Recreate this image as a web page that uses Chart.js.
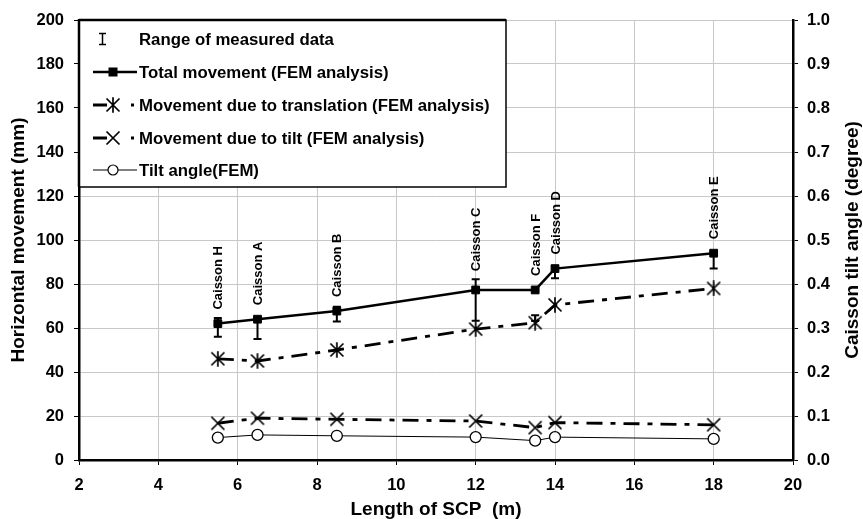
<!DOCTYPE html>
<html>
<head>
<meta charset="utf-8">
<script src="https://cdn.jsdelivr.net/npm/chart.js@4/dist/chart.umd.min.js"></script>
<style>
  html, body { margin: 0; padding: 0; background: #fff; }
  #wrap { width: 863px; height: 519px; }
</style>
</head>
<body>
<div id="wrap"><canvas id="myChart" width="863" height="519"></canvas></div>
<script>
const caissons = ["Caisson H", "Caisson A", "Caisson B", "Caisson C", "Caisson F", "Caisson D", "Caisson E"];
const scpLength = [5.5, 6.5, 8.5, 12, 13.5, 14, 18];
const totalMove = [62, 64, 67.7, 77.3, 77.3, 87, 94];
const translationMove = [46, 45, 50, 59.5, 62.4, 70.5, 78];
const tiltMove = [16.7, 19, 18.5, 17.7, 14.7, 17, 16];
const tiltAngle = [0.051, 0.057, 0.055, 0.052, 0.044, 0.052, 0.048];
const measuredLow = [56, 55, 63, 63.3, 63.2, 82.6, 87];
const measuredHigh = [64.5, 65, 69.7, 82.2, 65.8, 88, 94.7];
const xTicks = [2, 4, 6, 8, 10, 12, 14, 16, 18, 20];

const FONT = "'Liberation Sans', Arial, Helvetica, sans-serif";

function pts(vals) {
  return scpLength.map((x, i) => ({ x: x, y: vals[i] }));
}

// marker images: asterisk (x + vertical) and plain x
function marker(kind, size) {
  const c = document.createElement("canvas");
  c.width = size; c.height = size;
  const g = c.getContext("2d");
  const m = size / 2, r = size / 2 - 1.5;
  g.strokeStyle = "#000";
  g.lineWidth = 1.7;
  g.beginPath();
  g.moveTo(m - r, m - r); g.lineTo(m + r, m + r);
  g.moveTo(m + r, m - r); g.lineTo(m - r, m + r);
  if (kind === "ast") {
    g.moveTo(m, m - r * 1.2); g.lineTo(m, m + r * 1.2);
  }
  g.stroke();
  return c;
}
const astMark = marker("ast", 16);
const xMark = marker("x", 16);

const dashDot = [16, 8, 5, 8];

const data = {
  datasets: [
    {
      label: "Total movement (FEM analysis)",
      data: pts(totalMove),
      borderColor: "#000",
      backgroundColor: "#000",
      borderWidth: 2.5,
      pointStyle: "rect",
      pointRadius: 5.5,
      pointBorderWidth: 1,
      yAxisID: "y",
    },
    {
      label: "Movement due to translation (FEM analysis)",
      data: pts(translationMove),
      borderColor: "#000",
      backgroundColor: "#000",
      borderWidth: 2.8,
      borderDash: dashDot,
      pointStyle: astMark,
      yAxisID: "y",
    },
    {
      label: "Movement due to tilt (FEM analysis)",
      data: pts(tiltMove),
      borderColor: "#000",
      backgroundColor: "#000",
      borderWidth: 2.8,
      borderDash: dashDot,
      pointStyle: xMark,
      yAxisID: "y",
    },
    {
      label: "Tilt angle(FEM)",
      data: pts(tiltAngle),
      borderColor: "#000",
      backgroundColor: "#fff",
      borderWidth: 1,
      pointStyle: "circle",
      pointRadius: 5.5,
      pointBorderWidth: 1.3,
      yAxisID: "y1",
    },
  ],
};

// measured range bars, caisson labels, legend box, right title
const extras = {
  id: "extras",
  afterDatasetsDraw(chart) {
    const ctx = chart.ctx;
    const xs = chart.scales.x;
    const ys = chart.scales.y;
    ctx.save();
    ctx.strokeStyle = "#000";
    ctx.lineWidth = 2;
    scpLength.forEach((xv, i) => {
      const px = xs.getPixelForValue(xv);
      const lo = ys.getPixelForValue(measuredLow[i]);
      const hi = ys.getPixelForValue(measuredHigh[i]);
      ctx.beginPath();
      ctx.moveTo(px, lo); ctx.lineTo(px, hi);
      ctx.moveTo(px - 4, lo); ctx.lineTo(px + 4, lo);
      ctx.moveTo(px - 4, hi); ctx.lineTo(px + 4, hi);
      ctx.stroke();
    });
    ctx.fillStyle = "#000";
    ctx.font = "bold 13px " + FONT;
    ctx.textAlign = "left";
    ctx.textBaseline = "middle";
    scpLength.forEach((xv, i) => {
      const px = xs.getPixelForValue(xv);
      const top = Math.min(ys.getPixelForValue(measuredHigh[i]), ys.getPixelForValue(totalMove[i]) - 6);
      ctx.save();
      ctx.translate(px + 1, top - 8);
      ctx.rotate(-Math.PI / 2);
      ctx.fillText(caissons[i], 0, 0);
      ctx.restore();
    });
    ctx.restore();
  },
  afterDraw(chart) {
    const ctx = chart.ctx;
    const a = chart.chartArea;
    const bx = a.left, by = a.top, bw = 427, bh = 167;
    ctx.save();
    ctx.fillStyle = "#fff";
    ctx.fillRect(bx, by, bw, bh);
    ctx.strokeStyle = "#000";
    ctx.lineWidth = 1.5;
    ctx.strokeRect(bx, by, bw, bh);
    ctx.lineWidth = 2.5;
    ctx.beginPath();
    ctx.moveTo(a.left, a.top - 1); ctx.lineTo(a.left, by + bh);
    ctx.moveTo(a.left, a.top); ctx.lineTo(bx + bw, a.top);
    ctx.stroke();

    const rows = [39, 72, 105, 138, 170];
    const x0 = 93, x1 = 137, xm = 113, tx = 139;
    ctx.font = "bold 16.8px " + FONT;
    ctx.fillStyle = "#000";
    ctx.textBaseline = "middle";
    ctx.textAlign = "left";
    const labels = ["Range of measured data"].concat(data.datasets.map(d => d.label));
    labels.forEach((t, i) => ctx.fillText(t, tx, rows[i] + 1));

    // range symbol
    ctx.lineWidth = 1.5;
    ctx.beginPath();
    ctx.moveTo(102.5, rows[0] - 5.5); ctx.lineTo(102.5, rows[0] + 5.5);
    ctx.moveTo(99, rows[0] - 5.5); ctx.lineTo(106, rows[0] - 5.5);
    ctx.moveTo(99, rows[0] + 5.5); ctx.lineTo(106, rows[0] + 5.5);
    ctx.stroke();

    // total
    ctx.lineWidth = 2.5;
    ctx.beginPath(); ctx.moveTo(x0, rows[1]); ctx.lineTo(x1, rows[1]); ctx.stroke();
    ctx.fillRect(xm - 4.5, rows[1] - 4.5, 9, 9);
    // translation / tilt
    [2, 3].forEach(r => {
      ctx.lineWidth = 3;
      ctx.beginPath(); ctx.moveTo(x0, rows[r]); ctx.lineTo(x0 + 14, rows[r]); ctx.stroke();
      ctx.beginPath(); ctx.moveTo(x1 - 6, rows[r]); ctx.lineTo(x1 - 3, rows[r]); ctx.stroke();
      const img = r === 2 ? astMark : xMark;
      ctx.drawImage(img, xm - img.width / 2, rows[r] - img.height / 2);
    });
    // tilt angle
    ctx.lineWidth = 1;
    ctx.beginPath(); ctx.moveTo(x0, rows[4]); ctx.lineTo(x1, rows[4]); ctx.stroke();
    ctx.fillStyle = "#fff";
    ctx.lineWidth = 1.2;
    ctx.beginPath(); ctx.arc(xm, rows[4], 5, 0, Math.PI * 2); ctx.fill(); ctx.stroke();

    // right axis title, reading upwards
    ctx.fillStyle = "#000";
    ctx.font = "bold 19px " + FONT;
    ctx.textAlign = "center";
    ctx.textBaseline = "middle";
    ctx.translate(853, (a.top + a.bottom) / 2);
    ctx.rotate(-Math.PI / 2);
    ctx.fillText("Caisson tilt angle (degree)", 0, 0);
    ctx.restore();
  },
};

const tickFont = { family: FONT, size: 16.5, weight: "bold" };
const titleFont = { family: FONT, size: 19, weight: "bold", lineHeight: 1 };

const config = {
  type: "line",
  data: data,
  options: {
    responsive: false,
    animation: false,
    layout: { padding: { top: 20, right: 0, left: 0, bottom: 0 } },
    plugins: { legend: { display: false }, tooltip: { enabled: false } },
    scales: {
      x: {
        type: "linear",
        min: 2,
        max: 20,
        afterBuildTicks: (s) => { s.ticks = xTicks.map(v => ({ value: v })); },
        ticks: { color: "#000", font: tickFont, padding: 11 },
        grid: { color: "#c8c8c8", tickColor: "#000", tickLength: 5 },
        border: { color: "#000", width: 2.5 },
        title: { display: true, text: "Length of SCP  (m)", color: "#000", font: titleFont, padding: { top: 0, bottom: 0 } },
        afterFit: (s) => { s.height = 59; },
      },
      y: {
        position: "left",
        min: 0,
        max: 200,
        ticks: { stepSize: 20, color: "#000", font: tickFont, padding: 10 },
        grid: { color: "#c8c8c8", tickColor: "#000", tickLength: 5 },
        border: { color: "#000", width: 2.5 },
        title: { display: true, text: "Horizontal movement (mm)", color: "#000", font: titleFont, padding: { top: 9, bottom: 0 } },
        afterFit: (s) => { s.width = 79; },
      },
      y1: {
        position: "right",
        min: 0,
        max: 1,
        ticks: { stepSize: 0.1, color: "#000", font: tickFont, padding: 9, callback: v => v.toFixed(1) },
        grid: { drawOnChartArea: false, tickColor: "#000", tickLength: 5 },
        border: { color: "#000", width: 2.5 },
        afterFit: (s) => { s.width = 70; },
      },
    },
  },
  plugins: [extras],
};

const lineChart = new Chart(document.querySelector("#myChart"), config);
</script>
</body>
</html>
